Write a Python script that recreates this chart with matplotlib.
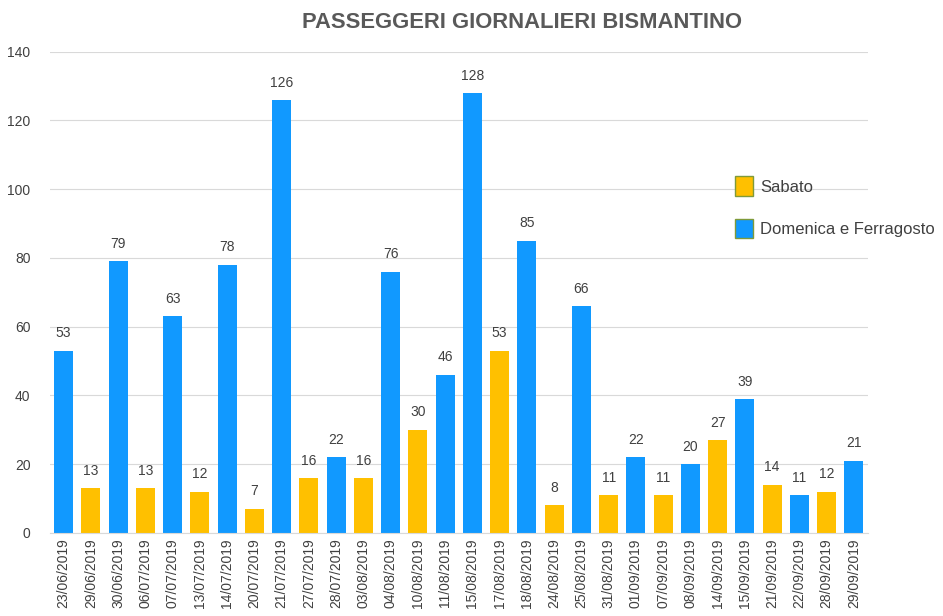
import matplotlib.pyplot as plt
from matplotlib.patches import Patch

plt.rcParams['font.family'] = ['Liberation Sans', 'DejaVu Sans']

dates = ["23/06/2019", "29/06/2019", "30/06/2019", "06/07/2019", "07/07/2019",
         "13/07/2019", "14/07/2019", "20/07/2019", "21/07/2019", "27/07/2019",
         "28/07/2019", "03/08/2019", "04/08/2019", "10/08/2019", "11/08/2019",
         "15/08/2019", "17/08/2019", "18/08/2019", "24/08/2019", "25/08/2019",
         "31/08/2019", "01/09/2019", "07/09/2019", "08/09/2019", "14/09/2019",
         "15/09/2019", "21/09/2019", "22/09/2019", "28/09/2019", "29/09/2019"]
passengers = [53, 13, 79, 13, 63, 12, 78, 7, 126, 16,
              22, 16, 76, 30, 46, 128, 53, 85, 8, 66,
              11, 22, 11, 20, 27, 39, 14, 11, 12, 21]
# S = Sabato, D = Domenica e Ferragosto
day_type = ["D", "S", "D", "S", "D", "S", "D", "S", "D", "S",
            "D", "S", "D", "S", "D", "D", "S", "D", "S", "D",
            "S", "D", "S", "D", "S", "D", "S", "D", "S", "D"]

yellow = "#FFC000"
blue = "#1199FF"
colors = [yellow if t == "S" else blue for t in day_type]

fig = plt.figure(figsize=(9.43, 6.16), dpi=100)
ax = fig.add_axes([0.053, 0.135, 0.867, 0.781])

x = range(len(dates))
bars = ax.bar(x, passengers, width=0.7, color=colors, zorder=2)
for xi, v in zip(x, passengers):
    ax.text(xi, v + 3, str(v), ha="center", va="bottom", fontsize=10, color="#404040")

ax.set_xlim(-0.5, len(dates) - 0.5)
ax.set_ylim(0, 140)
ax.set_yticks(range(0, 141, 20))
ax.set_xticks(list(x))
ax.set_xticklabels(dates, rotation=90, fontsize=10, color="#404040")
ax.tick_params(axis="y", labelsize=10, labelcolor="#404040", length=0, pad=14)
ax.tick_params(axis="x", length=0, pad=4)
ax.grid(axis="y", color="#d9d9d9", linewidth=0.8, zorder=0)
for s in ["top", "right", "left"]:
    ax.spines[s].set_visible(False)
ax.spines["bottom"].set_color("#d9d9d9")

fig.text(0.554, 0.963, "PASSEGGERI GIORNALIERI BISMANTINO", ha="center", va="center",
         fontsize=15.8, fontweight="bold", color="#595959")

handles = [Patch(facecolor=yellow, edgecolor="#7f9a3a", label="Sabato"),
           Patch(facecolor=blue, edgecolor="#7f9a3a", label="Domenica e Ferragosto")]
fig.legend(handles=handles, loc="upper left", bbox_to_anchor=(0.764, 0.738), frameon=False,
           fontsize=12, handlelength=1.05, handleheight=1.45, labelspacing=1.35,
           handletextpad=0.45, labelcolor="#404040")

fig.savefig("out.png", dpi=100)
